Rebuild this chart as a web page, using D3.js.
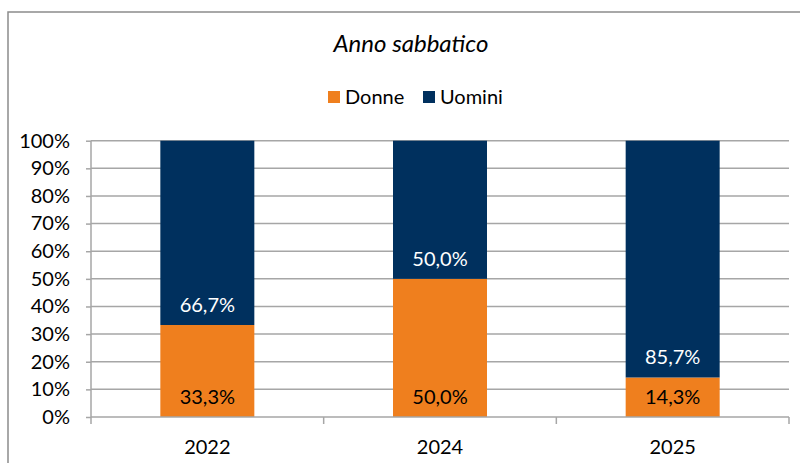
<!DOCTYPE html>
<html>
<head>
<meta charset="utf-8">
<script src="https://cdn.jsdelivr.net/npm/d3@7"></script>
<style>
  html, body { margin: 0; padding: 0; background: #fff; }
  svg { display: block; font-family: Lato, "Liberation Sans", sans-serif; }
</style>
</head>
<body>
<svg id="chart" width="800" height="463"></svg>
<script>
const categories = ["2022", "2024", "2025"];
const seriesNames = ["Donne", "Uomini"];
const donne = [33.3, 50.0, 14.3];
const uomini = [66.7, 50.0, 85.7];
const yTicks = [0, 10, 20, 30, 40, 50, 60, 70, 80, 90, 100];
const colors = ["#EF7F1E", "#00305E"];
const title = "Anno sabbatico";

const FONT = "Lato, 'Liberation Sans', sans-serif";
const svg = d3.select("#chart");

// outer frame
svg.append("rect").attr("x", 8).attr("y", 12).attr("width", 800).attr("height", 470)
  .attr("fill", "none").attr("stroke", "#8c8c8c").attr("stroke-width", 1.5);

const x = d3.scaleBand().domain(categories).range([91, 789]).paddingInner(0.596).paddingOuter(0.298);
const y = d3.scaleLinear().domain([0, 100]).range([417, 140.7]);

// gridlines
svg.append("g").selectAll("line").data(yTicks.filter(d => d > 0)).join("line")
  .attr("x1", 91).attr("x2", 789).attr("y1", d => y(d)).attr("y2", d => y(d))
  .attr("stroke", "#a6a6a6").attr("stroke-width", 1.5);

// stacked data
const table = categories.map((c, i) => ({ cat: c, Donne: donne[i], Uomini: uomini[i] }));
const stacked = d3.stack().keys(seriesNames)(table);

svg.append("g").selectAll("g").data(stacked).join("g")
  .attr("fill", (d, i) => colors[i])
  .selectAll("rect").data(d => d).join("rect")
  .attr("x", d => x(d.data.cat))
  .attr("width", x.bandwidth())
  .attr("y", d => y(d[1]))
  .attr("height", d => y(d[0]) - y(d[1]));

// data labels (inside base)
const fmt = v => v.toFixed(1).replace(".", ",") + "%";
stacked.forEach((s, si) => {
  svg.append("g").selectAll("text").data(s).join("text")
    .attr("x", d => x(d.data.cat) + x.bandwidth() / 2)
    .attr("y", d => y(d[0]) - 20)
    .attr("dy", "0.35em")
    .attr("text-anchor", "middle")
    .attr("font-size", 20)
    .attr("fill", si === 0 ? "#000" : "#fff")
    .text(d => fmt(d.data[s.key]));
});

// y axis
const yAxis = d3.axisLeft(y).tickValues(yTicks).tickFormat(d => d + "%").tickSize(5).tickPadding(16);
const gy = svg.append("g").attr("transform", "translate(91,0)").call(yAxis);
gy.select(".domain").attr("stroke", "#a6a6a6").attr("stroke-width", 1.5).attr("d", "M0,417V140.7");
gy.selectAll(".tick line").attr("stroke", "#a6a6a6").attr("stroke-width", 1.5);
gy.selectAll(".tick text").attr("font-size", 20).attr("fill", "#000").attr("font-family", FONT);

// x axis
const gx = svg.append("g").attr("transform", "translate(0,417)").call(d3.axisBottom(x).tickSize(0).tickPadding(0));
gx.select(".domain").attr("stroke", "#a6a6a6").attr("stroke-width", 1.5).attr("d", "M91,0H789");
gx.selectAll(".tick text").attr("font-size", 20).attr("fill", "#000").attr("font-family", FONT)
  .attr("y", 30).attr("dy", "0.35em");
// category boundary ticks
const bounds = d3.range(categories.length + 1).map(i => x.range()[0] + i * x.step());
svg.append("g").selectAll("line").data(bounds).join("line")
  .attr("x1", d => d).attr("x2", d => d).attr("y1", 417).attr("y2", 424)
  .attr("stroke", "#a6a6a6").attr("stroke-width", 1.5);

// title
svg.append("text").attr("x", 411).attr("y", 44).attr("dy", "0.35em").attr("text-anchor", "middle")
  .attr("font-size", 24).attr("font-style", "italic").attr("fill", "#000").text(title);

// legend
const legendItems = [{ name: "Donne", x: 328 }, { name: "Uomini", x: 423 }];
const lg = svg.append("g");
legendItems.forEach((it, i) => {
  lg.append("rect").attr("x", it.x).attr("y", 91).attr("width", 12).attr("height", 12).attr("fill", colors[i]);
  lg.append("text").attr("x", it.x + 17).attr("y", 97).attr("dy", "0.35em")
    .attr("font-size", 20).attr("fill", "#000").text(it.name);
});
</script>
</body>
</html>
